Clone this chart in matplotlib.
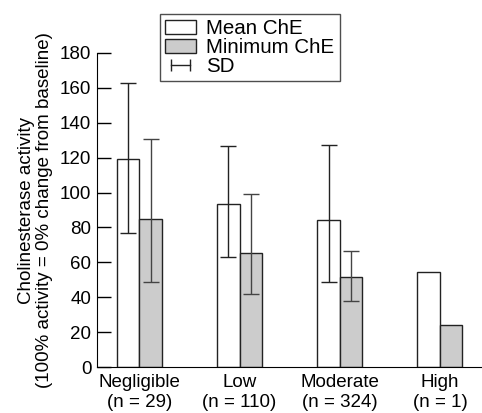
import numpy as np
import matplotlib
matplotlib.use("Agg")
import matplotlib.pyplot as plt
from matplotlib.patches import Patch
from matplotlib.lines import Line2D

plt.rcParams['font.family'] = ['Liberation Sans', 'DejaVu Sans']
plt.rcParams['font.size'] = 13.5

groups = ['Negligible\n(n = 29)', 'Low\n(n = 110)', 'Moderate\n(n = 324)', 'High\n(n = 1)']
mean_che = [119.5, 93.5, 84, 54.5]
mean_sd_low = [77, 63, 49, None]
mean_sd_high = [163, 126.5, 127, None]
min_che = [85, 65.5, 51.5, 24]
min_sd_low = [49, 42, 38, None]
min_sd_high = [130.5, 99, 66.5, None]

x = np.arange(len(groups))
w = 0.225

fig = plt.figure(figsize=(4.82, 4.13), dpi=100)
ax = fig.add_axes([0.201, 0.111, 0.799, 0.761])

ax.bar(x - w / 2, mean_che, w, color='white', edgecolor='#222222', linewidth=1.0, zorder=2)
ax.bar(x + w / 2, min_che, w, color='#cccccc', edgecolor='#222222', linewidth=1.0, zorder=2)

def draw_sd(xs, vals, lo, hi, color):
    for xi, v, l, h in zip(xs, vals, lo, hi):
        if l is None:
            continue
        ax.errorbar([xi], [v], yerr=[[v - l], [h - v]], fmt='none', ecolor=color,
                    elinewidth=1.0, capsize=5.5, capthick=1.0, zorder=3)

draw_sd(x - w / 2, mean_che, mean_sd_low, mean_sd_high, '#222222')
draw_sd(x + w / 2, min_che, min_sd_low, min_sd_high, '#444444')

ax.set_xlim(-0.425, 3.42)
ax.set_ylim(0, 180)
ax.set_yticks(range(0, 181, 20))
ax.set_xticks(x)
ax.set_xticklabels(groups)
ax.tick_params(axis='x', length=0, pad=5)
ax.tick_params(axis='y', direction='in', length=10, width=1.0, pad=4)
ax.spines['top'].set_visible(False)
ax.spines['right'].set_visible(False)
ax.set_ylabel('Cholinesterase activity\n(100% activity = 0% change from baseline)',
              linespacing=1.1, labelpad=5)

handles = [
    Patch(facecolor='white', edgecolor='#222222', linewidth=1.0, label='Mean ChE'),
    Patch(facecolor='#cccccc', edgecolor='#222222', linewidth=1.0, label='Minimum ChE'),
    Line2D([], [], color='#222222', lw=1.0, marker='|', markersize=8, label='SD'),
]
fig.legend(handles=handles, loc='upper left', bbox_to_anchor=(160 / 482, 1 - 14 / 413),
           numpoints=2, frameon=True, fancybox=False, edgecolor='#222222',
           fontsize=14.8, borderpad=0.25, labelspacing=0.0, handlelength=1.5,
           handletextpad=0.5, borderaxespad=0)

fig.savefig('out.png', dpi=100)
